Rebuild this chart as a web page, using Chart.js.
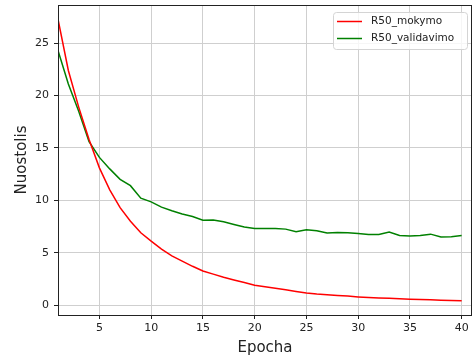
<!DOCTYPE html>
<html>
<head>
<meta charset="utf-8">
<script src="https://cdn.jsdelivr.net/npm/chart.js@4/dist/chart.umd.min.js"></script>
<style>
  html, body { margin: 0; padding: 0; background: #fff; }
  #wrap { width: 474px; height: 359px; }
</style>
</head>
<body>
<div id="wrap"><canvas id="lossChart" width="474" height="359"></canvas></div>
<script>
const epochs = Array.from({ length: 40 }, (_, i) => i + 1);
const trainLoss = [27.3, 22.4, 18.9, 15.8, 13.1, 11.0, 9.3, 8.0, 6.9, 6.1,
  5.35, 4.7, 4.2, 3.7, 3.25, 2.95, 2.65, 2.4, 2.15, 1.9,
  1.75, 1.6, 1.45, 1.3, 1.15, 1.05, 0.98, 0.92, 0.86, 0.78,
  0.72, 0.68, 0.64, 0.6, 0.56, 0.53, 0.5, 0.46, 0.43, 0.41];
const valLoss = [24.3, 21.1, 18.5, 15.6, 14.1, 13.0, 12.0, 11.4, 10.2, 9.85,
  9.35, 9.0, 8.7, 8.45, 8.1, 8.12, 7.95, 7.7, 7.45, 7.3,
  7.3, 7.3, 7.25, 7.0, 7.2, 7.1, 6.87, 6.93, 6.9, 6.84,
  6.74, 6.74, 6.97, 6.65, 6.6, 6.63, 6.77, 6.5, 6.53, 6.65];
const seriesNames = ['R50_mokymo', 'R50_validavimo'];
const seriesColors = ['#ff0000', '#008000'];
const xTicks = [5, 10, 15, 20, 25, 30, 35, 40];
const yTicks = [0, 5, 10, 15, 20, 25];

const FONT = "'DejaVu Sans', sans-serif";

// axes frame + matplotlib-like legend box
const framePlugin = {
  id: 'frame',
  afterDraw(chart) {
    const { ctx, chartArea: a } = chart;
    ctx.save();
    ctx.strokeStyle = '#222';
    ctx.lineWidth = 1;
    ctx.strokeRect(Math.round(a.left) + 0.5, Math.round(a.top) + 0.5,
      Math.round(a.right - a.left) - 1, Math.round(a.bottom - a.top));

    const bx = a.right - 139, by = a.top + 7, bw = 134, bh = 37;
    ctx.beginPath();
    ctx.roundRect(bx + 0.5, by + 0.5, bw, bh, 3);
    ctx.fillStyle = 'rgba(255,255,255,0.8)';
    ctx.fill();
    ctx.strokeStyle = '#d4d4d4';
    ctx.stroke();
    ctx.font = '10.5px ' + FONT;
    ctx.textBaseline = 'middle';
    chart.data.datasets.forEach((ds, i) => {
      const ly = by + 9.5 + i * 17;
      ctx.beginPath();
      ctx.moveTo(bx + 4, ly);
      ctx.lineTo(bx + 29, ly);
      ctx.strokeStyle = ds.borderColor;
      ctx.lineWidth = 1.5;
      ctx.stroke();
      ctx.fillStyle = '#222';
      ctx.fillText(ds.label, bx + 38, ly);
    });
    ctx.restore();
  }
};

new Chart(document.getElementById('lossChart').getContext('2d'), {
  type: 'line',
  data: {
    datasets: [trainLoss, valLoss].map((vals, i) => ({
      label: seriesNames[i],
      data: vals.map((v, j) => ({ x: epochs[j], y: v })),
      borderColor: seriesColors[i],
      backgroundColor: seriesColors[i],
      borderWidth: 1.5,
      pointRadius: 0,
      tension: 0,
      fill: false
    }))
  },
  options: {
    responsive: false,
    animation: false,
    layout: { padding: { top: 5, right: 2, left: 0, bottom: 0 } },
    plugins: { legend: { display: false }, tooltip: { enabled: false } },
    scales: {
      x: {
        type: 'linear',
        min: 1,
        max: 41,
        afterBuildTicks: s => { s.ticks = xTicks.map(v => ({ value: v })); },
        afterFit: s => { s.height = 44; s.paddingLeft = 0; s.paddingRight = 0; },
        ticks: { color: '#222', font: { family: FONT, size: 11 }, padding: 3, maxRotation: 0 },
        grid: { color: '#cfcfcf', lineWidth: 1, tickLength: 4, tickColor: '#222' },
        border: { display: false },
        title: { display: true, text: 'Epocha', color: '#222', font: { family: FONT, size: 15 }, padding: { top: 0, bottom: 2 } }
      },
      y: {
        min: -0.95,
        max: 28.65,
        afterBuildTicks: s => { s.ticks = yTicks.map(v => ({ value: v })); },
        afterFit: s => { s.width = 58; s.paddingTop = 0; s.paddingBottom = 0; },
        ticks: { color: '#222', font: { family: FONT, size: 11 }, padding: 5 },
        grid: { color: '#cfcfcf', lineWidth: 1, tickLength: 4, tickColor: '#222' },
        border: { display: false },
        title: { display: true, text: 'Nuostolis', color: '#222', font: { family: FONT, size: 15 }, padding: { top: 13, bottom: 0 } }
      }
    }
  },
  plugins: [framePlugin]
});
</script>
</body>
</html>
